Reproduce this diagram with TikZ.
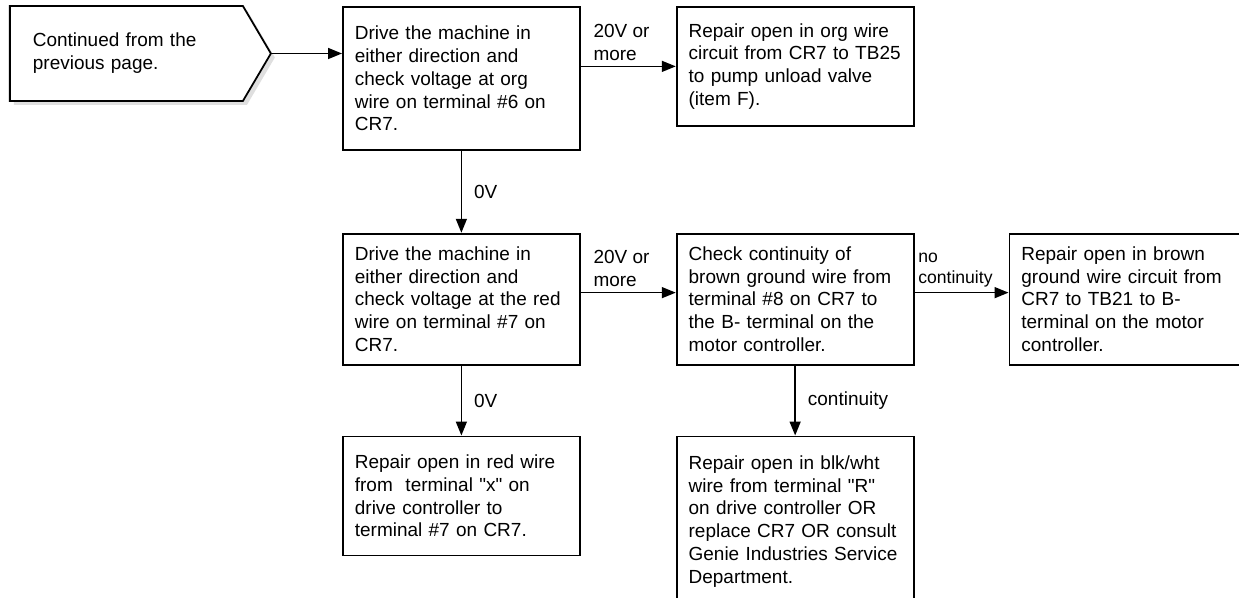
\documentclass[tikz,border=0pt]{standalone}
\usepackage{fontspec}
\setmainfont{Liberation Sans}
\usetikzlibrary{
    arrows.meta,
    positioning,
    shapes.symbols,
    shadows
}
\tikzset{
  block/.style   = {draw, line width=1pt, text width=4.26cm, inner xsep=0.24cm,
                    align=left, font=\fontsize{10.8pt}{13pt}\selectfont,
                    execute at begin node={\hyphenpenalty=10000}},
  startblk/.style = {signal, signal to=east, signal pointer angle=119, draw,
                    line width=1pt, fill=white, minimum width=5.22cm,
                    minimum height=1.9cm, text width=3.74cm, align=left,
                    font=\fontsize{10.8pt}{13pt}\selectfont,
                    drop shadow={shadow xshift=0.08cm, shadow yshift=-0.08cm,
                                 fill=gray!25, opacity=1}},
  lbl/.style     = {align=left, inner xsep=0.24cm, inner ysep=0.1cm,
                    font=\fontsize{10.8pt}{13pt}\selectfont},
  slbl/.style    = {align=left, inner xsep=0.06cm, inner ysep=0.1cm,
                    font=\fontsize{10pt}{11.5pt}\selectfont},
  arr/.style     = {-{Triangle[length=0.28cm,width=0.22cm]}, line width=0.9pt}
}

\begin{document}
\begin{tikzpicture}
  \useasboundingbox (0,0) rectangle (24.78,-11.96);
  \node[startblk, anchor=west] (start) at (0.18,-1.07)
       {Continued from the\\previous page.};
  \node[block, anchor=north west, minimum height=2.86cm] (chkorg) at (6.84,-0.12)
       {Drive the machine in\\either direction and\\check voltage at org\\wire on terminal \#6 on\\CR7.};
  \node[block, right=1.9cm of chkorg.north east, anchor=north west,
        minimum height=2.38cm] (fixorg)
       {Repair open in org wire\\circuit from CR7 to TB25\\to pump unload valve\\(item F).};
  \node[block, below=1.64cm of chkorg, minimum height=2.62cm] (chkred)
       {Drive the machine in\\either direction and\\check voltage at the red\\wire on terminal \#7 on\\CR7.};
  \node[block, right=1.9cm of chkred, minimum height=2.62cm] (chkbrn)
       {Check continuity of\\brown ground wire from\\terminal \#8 on CR7 to\\the B- terminal on the\\motor controller.};
  \node[block, right=1.88cm of chkbrn, minimum height=2.62cm] (fixbrn)
       {Repair open in brown\\ground wire circuit from\\CR7 to TB21 to B-\\terminal on the motor\\controller.};
  \node[block, below=1.4cm of chkred, minimum height=2.38cm] (fixred)
       {Repair open in red wire\\from\ \ terminal \textquotedbl x\textquotedbl{} on\\drive controller to\\terminal \#7 on CR7.};
  \node[block, below=1.4cm of chkbrn.south, anchor=north, minimum height=3.4cm] (fixblk)
       {Repair open in blk/wht\\wire from terminal \textquotedbl R\textquotedbl\\on drive controller OR\\replace CR7 OR consult\\Genie Industries Service\\Department.};

  \draw[arr] (start.east) -- (start.east -| chkorg.west);
  \draw[arr] (chkorg.east |- fixorg.west) -- node[lbl, above right, pos=0] {20V or\\more}
       (fixorg.west);
  \draw[arr] (chkorg) -- node[lbl, right] {0V} (chkred);
  \draw[arr] ([yshift=0.13cm]chkred.east) -- node[lbl, above right, pos=0] {20V or\\more}
       ([yshift=0.13cm]chkbrn.west);
  \draw[arr] ([yshift=0.13cm]chkbrn.east) -- node[slbl, above right, pos=0] {no\\continuity}
       ([yshift=0.13cm]fixbrn.west);
  \draw[arr] (chkred) -- node[lbl, right] {0V} (fixred);
  \draw[arr] (chkbrn) -- node[lbl, right] {continuity} (fixblk);
\end{tikzpicture}
\end{document}
